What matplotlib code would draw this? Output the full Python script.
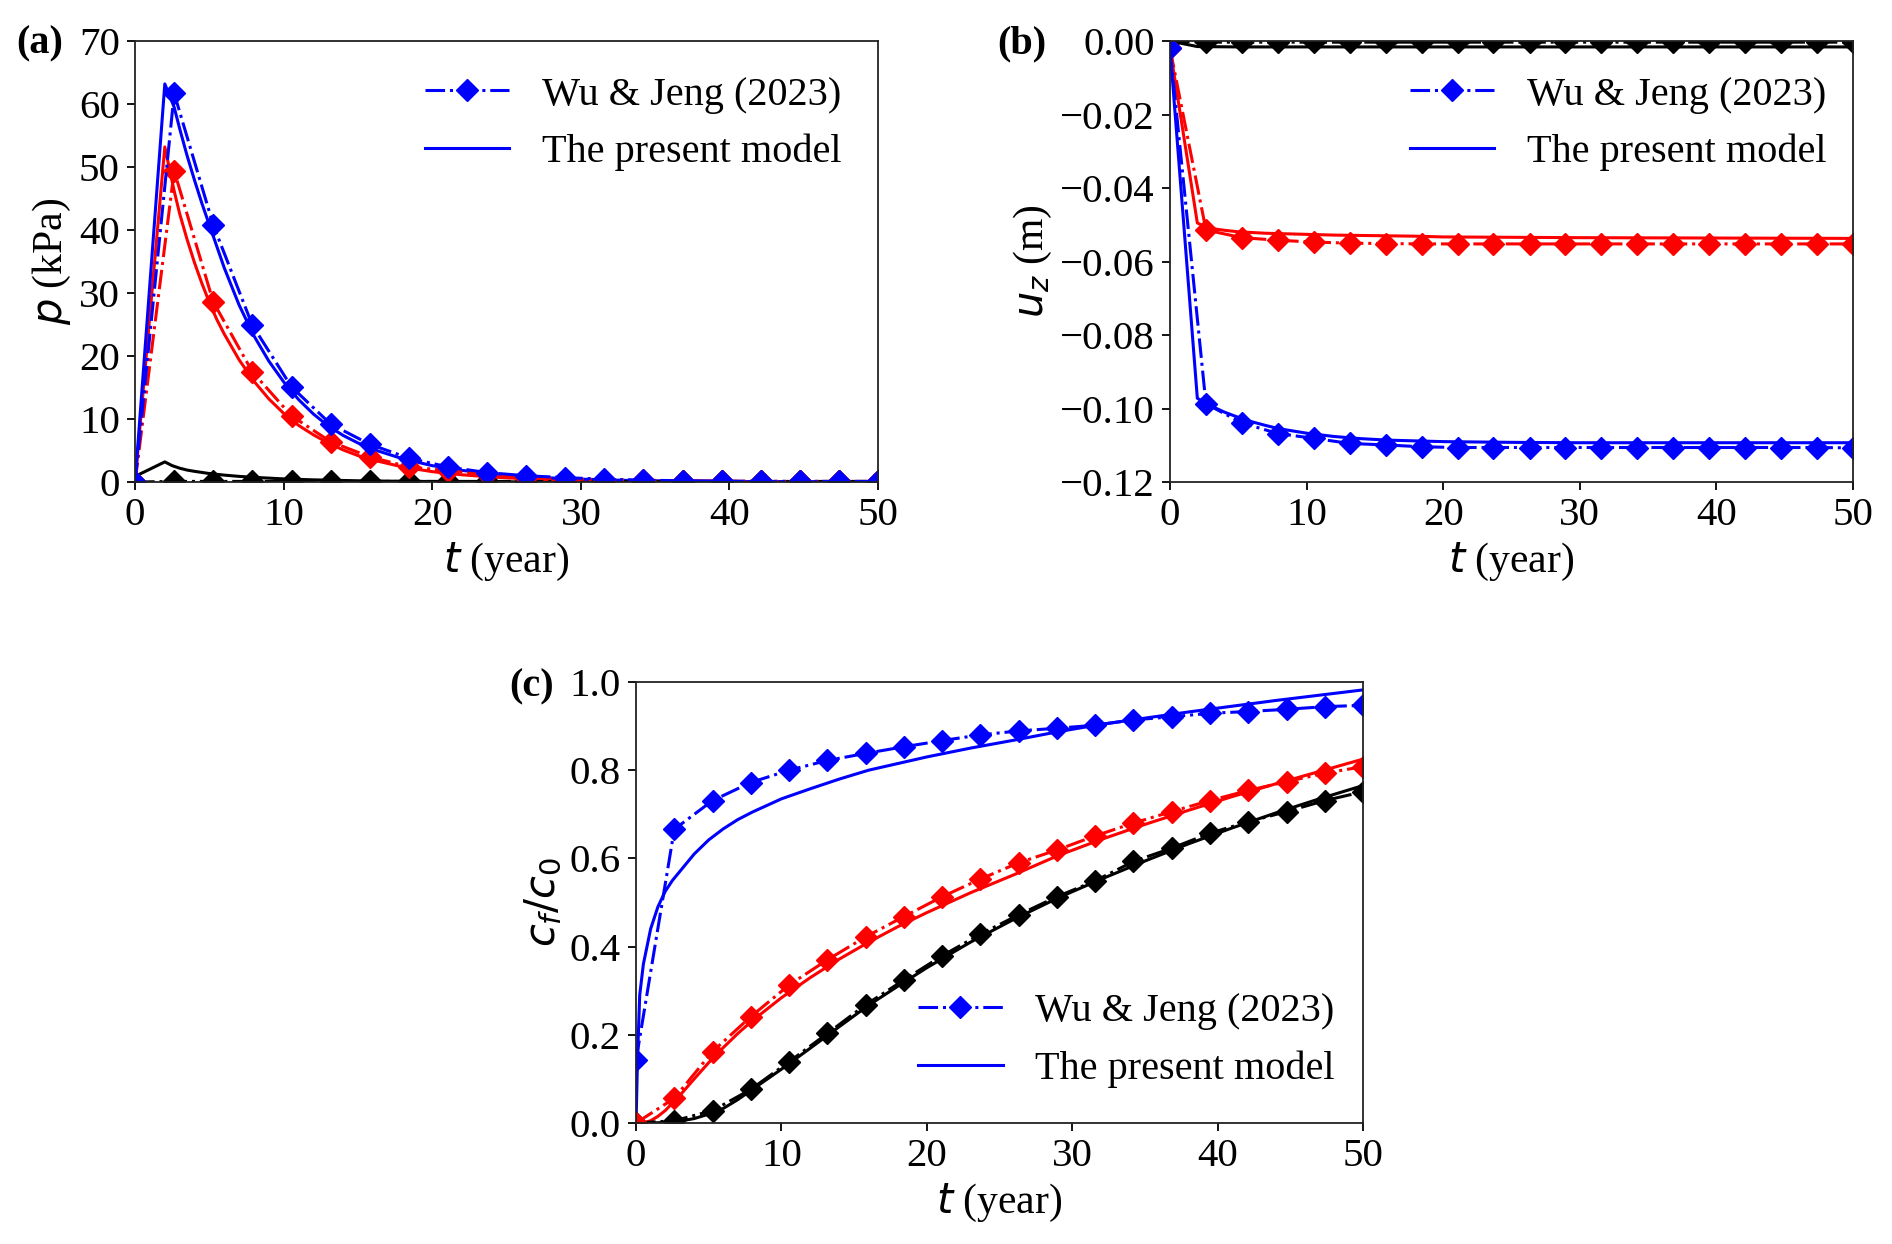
import matplotlib.pyplot as plt
from matplotlib.lines import Line2D

plt.rcParams['font.family'] = 'Liberation Serif'
plt.rcParams['mathtext.fontset'] = 'dejavusans'

# Wu & Jeng (2023) sample times (marker positions)
t_wj = [0, 2.63, 5.26, 7.89, 10.53, 13.16, 15.79, 18.42, 21.05, 23.68,
        26.32, 28.95, 31.58, 34.21, 36.84, 39.47, 42.11, 44.74, 47.37, 50]

# ---- (a) pore pressure p (kPa) ----
p_wj_blue = [0, 61.7, 40.8, 24.9, 15.1, 9.2, 6.0, 3.8, 2.4, 1.5,
             1.0, 0.7, 0.45, 0.3, 0.2, 0.15, 0.1, 0.1, 0.1, 0.1]
p_wj_red = [0, 49.4, 28.6, 17.5, 10.5, 6.4, 4.0, 2.4, 1.8, 1.2,
            0.7, 0.5, 0.35, 0.25, 0.2, 0.15, 0.1, 0.1, 0.1, 0.1]
p_wj_black = [0, 0.1, 0.1, 0.1, 0.1, 0.1, 0.1, 0.1, 0.1, 0.1,
              0.1, 0.1, 0.1, 0.1, 0.1, 0.1, 0.1, 0.1, 0.1, 0.1]

t_pa = [0, 2, 2.63, 3, 3.5, 4, 4.5, 5, 5.5, 6, 7, 8, 9, 10, 11, 12, 13, 14,
        15, 16, 18, 20, 22, 24, 26, 28, 30, 33, 36, 40, 45, 50]
p_blue = [0, 63.2, 59.5, 56.1, 51.8, 47.9, 44.2, 40.8, 37.4, 34.0, 28.1, 23.2,
          19.2, 15.9, 13.1, 10.8, 8.9, 7.4, 6.2, 5.2, 3.7, 2.6, 1.85, 1.3,
          0.92, 0.65, 0.46, 0.27, 0.16, 0.08, 0.04, 0.02]
p_red = [0, 53.2, 46.2, 42.6, 38.5, 34.8, 31.5, 28.5, 25.8, 23.5, 19.4, 16.0,
         13.2, 10.9, 9.0, 7.5, 6.2, 5.1, 4.2, 3.5, 2.4, 1.65, 1.15, 0.8,
         0.55, 0.38, 0.26, 0.15, 0.09, 0.05, 0.02, 0.01]
t_pa_k = [0, 2, 2.5, 3, 3.5, 4, 5, 6, 7, 8, 10, 12, 15, 18, 22, 26, 30, 40, 50]
p_black = [0.9, 3.2, 2.6, 2.2, 1.9, 1.7, 1.35, 1.1, 0.9, 0.75, 0.5, 0.35,
           0.2, 0.12, 0.06, 0.03, 0.02, 0.01, 0.0]

# ---- (b) vertical displacement u_z (m) ----
uz_wj_blue = [-0.002, -0.0987, -0.1039, -0.1068, -0.1081, -0.1095, -0.1099,
              -0.1104, -0.1106, -0.1106, -0.1106, -0.1106, -0.1106, -0.1106,
              -0.1106, -0.1106, -0.1106, -0.1106, -0.1106, -0.1107]
uz_wj_red = [-0.002, -0.0514, -0.0535, -0.0542, -0.0547, -0.0550, -0.0551,
             -0.0552, -0.0552, -0.0552, -0.0552, -0.0552, -0.0552, -0.0552,
             -0.0552, -0.0552, -0.0552, -0.0552, -0.0552, -0.0552]
uz_wj_black = [0, -0.0003, -0.0003, -0.0003, -0.0003, -0.0003, -0.0003,
               -0.0003, -0.0003, -0.0003, -0.0003, -0.0003, -0.0003, -0.0003,
               -0.0003, -0.0003, -0.0003, -0.0003, -0.0003, -0.0003]

t_ub = [0, 2, 2.63, 3, 4, 5, 6, 7, 8, 10, 12, 14, 16, 18, 20, 25, 30, 40, 50]
uz_blue = [-0.002, -0.0972, -0.0986, -0.0993, -0.1010, -0.1024, -0.1036,
           -0.1046, -0.1055, -0.1067, -0.1076, -0.1082, -0.1086, -0.1088,
           -0.1090, -0.1092, -0.1093, -0.1093, -0.1093]
uz_red = [-0.002, -0.0495, -0.0506, -0.0510, -0.0515, -0.0519, -0.0521,
          -0.0523, -0.0524, -0.0526, -0.0528, -0.0529, -0.0530, -0.0531,
          -0.0533, -0.0534, -0.0535, -0.0536, -0.0537]
t_ub_k = [0, 2, 5, 10, 20, 50]
uz_black = [0, -0.0015, -0.0016, -0.0016, -0.0016, -0.0016]

# ---- (c) concentration c_f/c_0 ----
c_wj_blue = [0.143, 0.666, 0.731, 0.772, 0.800, 0.822, 0.838, 0.853, 0.867,
             0.880, 0.889, 0.895, 0.902, 0.914, 0.921, 0.929, 0.933, 0.938,
             0.944, 0.947]
c_wj_red = [0.0, 0.056, 0.162, 0.241, 0.313, 0.370, 0.422, 0.468, 0.513,
            0.553, 0.590, 0.619, 0.651, 0.680, 0.706, 0.731, 0.754, 0.774,
            0.793, 0.808]
c_wj_black = [0.0, 0.005, 0.028, 0.076, 0.139, 0.203, 0.268, 0.324, 0.379,
              0.428, 0.472, 0.513, 0.549, 0.593, 0.623, 0.657, 0.683, 0.706,
              0.731, 0.751]

t_cb = [0, 0.1, 0.25, 0.5, 1, 1.5, 2, 2.5, 3, 4, 5, 6, 7, 8, 10, 12, 14, 16,
        18, 20, 23, 26, 29, 32, 35, 38, 41, 44, 47, 50]
c_blue = [0, 0.15, 0.29, 0.36, 0.44, 0.49, 0.525, 0.55, 0.57, 0.61, 0.642,
          0.667, 0.688, 0.705, 0.735, 0.758, 0.78, 0.8, 0.815, 0.83, 0.85,
          0.868, 0.887, 0.904, 0.918, 0.932, 0.945, 0.958, 0.97, 0.982]
t_cr = [0, 0.5, 1, 1.5, 2, 3, 4, 5, 6, 7, 8, 10, 12, 14, 16, 18, 20, 23, 26,
        29, 32, 35, 38, 41, 44, 47, 50]
c_red = [0, 0.0, 0.005, 0.015, 0.028, 0.062, 0.1, 0.137, 0.171, 0.203, 0.232,
         0.284, 0.33, 0.372, 0.41, 0.445, 0.477, 0.522, 0.563, 0.606, 0.643,
         0.677, 0.709, 0.74, 0.769, 0.797, 0.825]
t_ck = [0, 1, 2, 3, 4, 5, 6, 7, 8, 10, 12, 14, 16, 18, 20, 23, 26, 29, 32, 35,
        38, 41, 44, 47, 50]
c_black = [0, 0, 0.001, 0.004, 0.01, 0.02, 0.033, 0.053, 0.076, 0.122, 0.17,
           0.219, 0.267, 0.31, 0.352, 0.41, 0.462, 0.51, 0.553, 0.594, 0.633,
           0.669, 0.703, 0.735, 0.765]

FS_TICK = 29.5
FS_LAB = 30
FS_LEG = 29
LW = 2.2
MS = 11

fig = plt.figure(figsize=(18.92, 12.44), dpi=100)
ax_a = fig.add_axes([0.0714, 0.6125, 0.3927, 0.3545])
ax_b = fig.add_axes([0.6184, 0.6125, 0.3610, 0.3545])
ax_c = fig.add_axes([0.3362, 0.0973, 0.3842, 0.3545])


def draw(ax, solid, wj):
    # solid: list of (t, y, colour); wj: list of (y, colour)
    for tt, yy, col in solid:
        ax.plot(tt, yy, '-', color=col, lw=LW)
    for yy, col in wj:
        ax.plot(t_wj, yy, '-.', color=col, lw=LW, marker='D', ms=MS)


draw(ax_a, [(t_pa_k, p_black, 'k'), (t_pa, p_red, 'r'), (t_pa, p_blue, 'b')],
     [(p_wj_black, 'k'), (p_wj_red, 'r'), (p_wj_blue, 'b')])
draw(ax_b, [(t_ub_k, uz_black, 'k'), (t_ub, uz_red, 'r'), (t_ub, uz_blue, 'b')],
     [(uz_wj_black, 'k'), (uz_wj_red, 'r'), (uz_wj_blue, 'b')])
draw(ax_c, [(t_ck, c_black, 'k'), (t_cr, c_red, 'r'), (t_cb, c_blue, 'b')],
     [(c_wj_black, 'k'), (c_wj_red, 'r'), (c_wj_blue, 'b')])

ax_a.set_ylim(0, 70)
ax_a.set_yticks(range(0, 71, 10))
ax_b.set_ylim(-0.12, 0)
ax_b.set_yticks([-0.12, -0.10, -0.08, -0.06, -0.04, -0.02, 0.00])
ax_b.set_yticklabels(['\u22120.12', '\u22120.10', '\u22120.08', '\u22120.06',
                      '\u22120.04', '\u22120.02', '0.00'])
ax_c.set_ylim(0, 1)
ax_c.set_yticks([0, 0.2, 0.4, 0.6, 0.8, 1.0])
ax_c.set_yticklabels(['0.0', '0.2', '0.4', '0.6', '0.8', '1.0'])

for ax in (ax_a, ax_b, ax_c):
    ax.set_xlim(0, 50)
    ax.set_xticks(range(0, 51, 10))
    ax.tick_params(labelsize=FS_TICK, width=1.3, length=6, pad=5)
    for s in ax.spines.values():
        s.set_linewidth(1.3)
        s.set_color('#222222')
    ax.set_xlabel('$t$ (year)', fontsize=FS_LAB, labelpad=5)

ax_a.set_ylabel('$p$ (kPa)', fontsize=FS_LAB, labelpad=4)
ax_b.set_ylabel('$u_z$ (m)', fontsize=FS_LAB, labelpad=4)
ax_c.set_ylabel('$c_f/c_0$', fontsize=FS_LAB, labelpad=4)

handles = [Line2D([], [], color='b', ls='-.', lw=LW, marker='D', ms=MS),
           Line2D([], [], color='b', ls='-', lw=LW)]
labels = ['Wu & Jeng (2023)', 'The present model']
leg_kw = dict(frameon=False, fontsize=FS_LEG, handlelength=2.1, handletextpad=0.8,
              labelspacing=0.5, borderpad=0, borderaxespad=0)
ax_a.legend(handles, labels, loc='upper left', bbox_to_anchor=(0.39, 0.92), **leg_kw)
ax_b.legend(handles, labels, loc='upper left', bbox_to_anchor=(0.351, 0.92), **leg_kw)
ax_c.legend(handles, labels, loc='upper left', bbox_to_anchor=(0.388, 0.295), **leg_kw)

fig.text(0.0085, 0.965, '(a)', fontsize=FS_LEG, fontweight='bold', va='center')
fig.text(0.527, 0.965, '(b)', fontsize=FS_LEG, fontweight='bold', va='center')
fig.text(0.269, 0.448, '(c)', fontsize=FS_LEG, fontweight='bold', va='center')

fig.savefig('out.png', dpi=100)
